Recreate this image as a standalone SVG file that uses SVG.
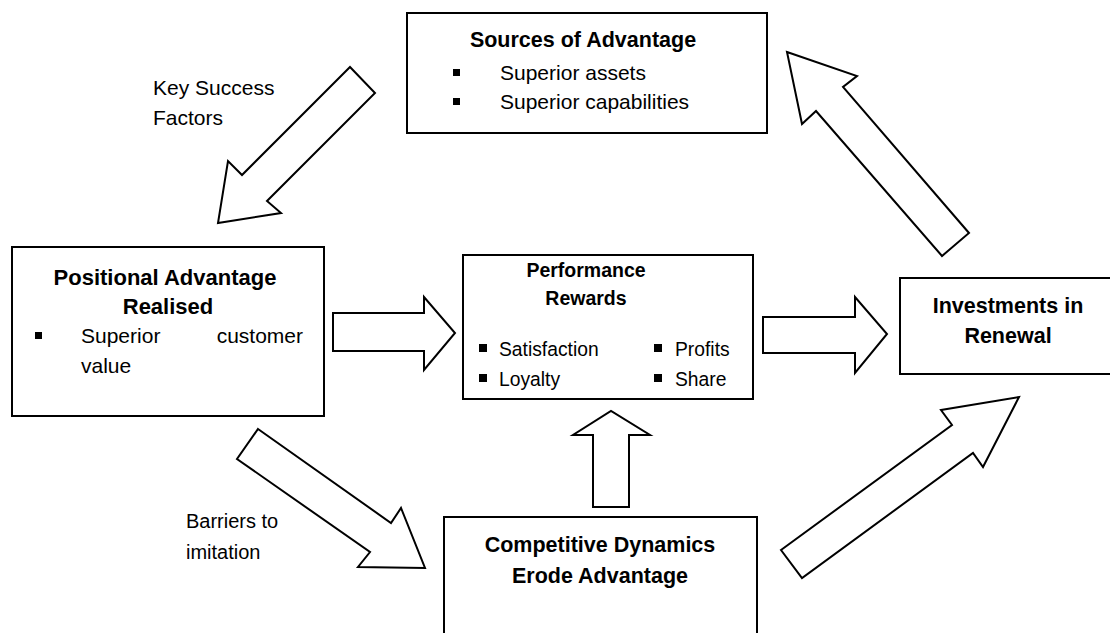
<svg xmlns="http://www.w3.org/2000/svg" width="1110" height="633" viewBox="0 0 1110 633">
<style>
.box{fill:#fff;stroke:#000;stroke-width:2}
.arr{fill:#fff;stroke:#000;stroke-width:2;stroke-linejoin:miter}
.t{font-family:"Liberation Sans",Arial,sans-serif;font-size:21px;fill:#000}
.b{font-family:"Liberation Sans",Arial,sans-serif;font-size:21.5px;font-weight:bold;fill:#000;text-anchor:middle}
.ps{font-size:19.3px}
.bul{fill:#000}
</style>
<rect width="1110" height="633" fill="#fff"/>
<g id="connectors">
<polygon class="arr" points="350,67 375,93 267,201 281,213 218,223 228,161 242,175"/>
<polygon class="arr" points="787,52 857,76 843,87 969,233 942,256 816,111 802,124"/>
<polygon class="arr" points="333,313 424,313 424,297 455,333 424,370 424,351 333,351"/>
<polygon class="arr" points="763,317 855,317 855,297 887,334 855,373 855,353 763,353"/>
<polygon class="arr" points="593,507 593,435 573,435 611,411 650,435 629,435 629,507"/>
<polygon class="arr" points="258,429 391,523 401,508 425,568 358,567 370,552 237,459"/>
<polygon class="arr" points="781,550 952,425 941,410 1019,397 983,467 973,453 802,578"/>
</g>
<g id="sources">
<rect class="box" x="407" y="13" width="360" height="120"/>
<text class="b" x="583" y="47">Sources of Advantage</text>
<rect class="bul" x="453" y="69" width="7" height="7"/>
<text class="t" x="500" y="80">Superior assets</text>
<rect class="bul" x="453" y="98" width="7" height="7"/>
<text class="t" x="500" y="109">Superior capabilities</text>
</g>
<g id="positional">
<rect class="box" x="12" y="247" width="312" height="169"/>
<text class="b" x="165" y="285" style="font-size:22px">Positional Advantage</text>
<text class="b" x="168" y="314" style="font-size:22px">Realised</text>
<rect class="bul" x="35" y="332" width="7" height="7"/>
<text class="t" x="81" y="343">Superior</text>
<text class="t" x="303" y="343" text-anchor="end">customer</text>
<text class="t" x="81" y="373">value</text>
</g>
<g id="performance">
<rect class="box" x="463" y="255" width="290" height="144"/>
<text class="b" x="586" y="277" style="font-size:19.5px">Performance</text>
<text class="b" x="586" y="305" style="font-size:19.5px">Rewards</text>
<rect class="bul" x="479" y="344" width="8" height="8"/>
<text class="t ps" x="499" y="356">Satisfaction</text>
<rect class="bul" x="479" y="374" width="8" height="8"/>
<text class="t ps" x="499" y="386">Loyalty</text>
<rect class="bul" x="654" y="344" width="8" height="8"/>
<text class="t ps" x="675" y="356">Profits</text>
<rect class="bul" x="654" y="374" width="8" height="8"/>
<text class="t ps" x="675" y="386">Share</text>
</g>
<g id="investments">
<rect class="box" x="900" y="278" width="220" height="96"/>
<text class="b" x="1008" y="313">Investments in</text>
<text class="b" x="1008" y="343">Renewal</text>
</g>
<g id="competitive">
<rect class="box" x="444" y="517" width="313" height="130"/>
<text class="b" x="600" y="552">Competitive Dynamics</text>
<text class="b" x="600" y="583">Erode Advantage</text>
</g>
<g id="labels">
<text class="t" x="153" y="95">Key Success</text>
<text class="t" x="153" y="125">Factors</text>
<text class="t" x="186" y="528" style="font-size:20px">Barriers to</text>
<text class="t" x="186" y="559" style="font-size:20px">imitation</text>
</g>
</svg>
